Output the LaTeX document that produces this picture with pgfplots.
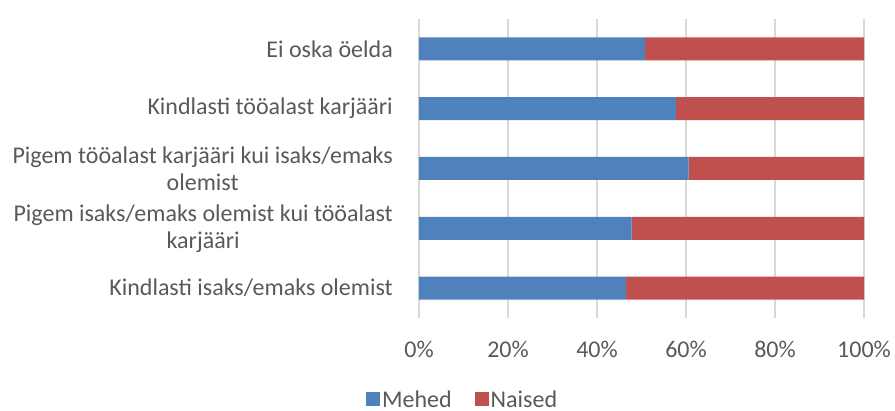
\documentclass[border=0pt]{standalone}
\usepackage{pgfplots}
\pgfplotsset{compat=1.18}
\usepackage{fontspec}
\setmainfont{Carlito}
\definecolor{txt}{HTML}{595959}
\definecolor{mblue}{HTML}{4F81BD}
\definecolor{mred}{HTML}{C0504D}
\definecolor{grd}{HTML}{D9D9D9}
\begin{document}
\begin{tikzpicture}[x=1pt,y=1pt]
\useasboundingbox (0,0) rectangle (895,411);
\begin{axis}[
  at={(419pt,93pt)}, anchor=south west,
  scale only axis, width=445pt, height=299pt,
  xbar stacked, bar width=23pt,
  xmin=0, xmax=100, ymin=-0.5, ymax=4.5,
  xtick={0,20,40,60,80,100},
  xticklabels={0\%,20\%,40\%,60\%,80\%,100\%},
  ytick={0,1,2,3,4},
  yticklabels={{Kindlasti isaks/emaks olemist},
               {Pigem isaks/emaks olemist kui tööalast\\karjääri},
               {Pigem tööalast karjääri kui isaks/emaks\\olemist},
               {Kindlasti tööalast karjääri},
               {Ei oska öelda}},
  tick label style={font=\fontsize{24}{27}\selectfont, text=txt, inner sep=0pt},
  yticklabel style={align=center, anchor=east, xshift=-26pt},
  xticklabel style={anchor=north, yshift=-23pt},
  major tick length=0pt,
  axis line style={draw=none},
  xmajorgrids, grid style={draw=grd, line width=1.5pt},
  legend style={at={(0.098,-0.274)}, anchor=center, draw=none, fill=none,
    legend columns=2, font=\fontsize{24}{27}\selectfont, text=txt,
    nodes={inner sep=2pt},
    /tikz/every even column/.append style={column sep=21pt}},
  legend image code/.code={\fill[#1] (0pt,-6pt) rectangle (14pt,8pt);},
]
\addplot[fill=mblue, draw=none] coordinates {(46.5,0) (47.8,1) (60.6,2) (57.7,3) (50.8,4)};
\addplot[fill=mred, draw=none] coordinates {(53.5,0) (52.2,1) (39.4,2) (42.3,3) (49.2,4)};
\legend{Mehed, Naised}
\end{axis}
\end{tikzpicture}
\end{document}
